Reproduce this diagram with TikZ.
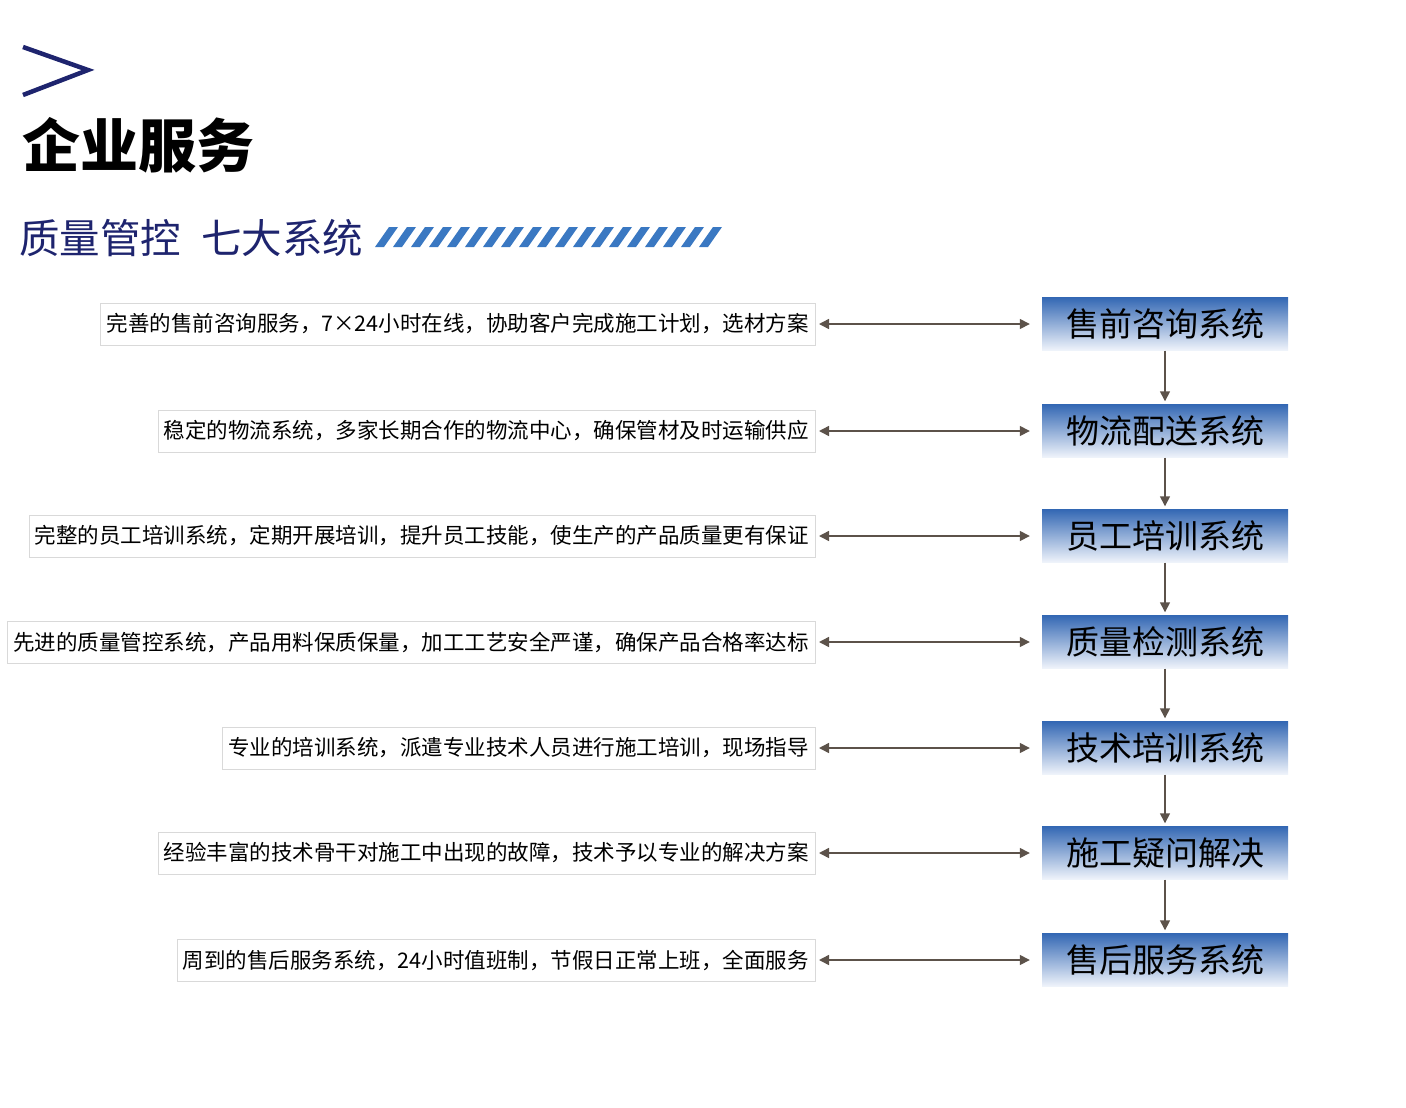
\documentclass[tikz,border=0pt]{standalone}
\usepackage{fontspec}
\setmainfont{Noto Sans CJK SC}
\usetikzlibrary{arrows.meta}
\definecolor{navy}{RGB}{30,36,110}
\definecolor{stripeblue}{RGB}{58,120,194}
\definecolor{boxtop}{RGB}{52,104,180}
\definecolor{boxbot}{RGB}{240,244,251}
\definecolor{linkgray}{RGB}{92,82,74}
\tikzset{sysbox/.style={minimum width=246pt,minimum height=53pt,inner sep=0pt,
  top color=boxtop,bottom color=boxbot,font=\fontsize{33}{33}\selectfont},
 descbox/.style={draw=black!15,anchor=east,minimum height=42pt,inner xsep=6pt,
  font=\fontsize{21.5}{22}\selectfont},
 link/.style={draw=linkgray,line width=1.5pt,
  {Triangle[width=10pt,length=10pt]}-{Triangle[width=10pt,length=10pt]}},
 flow/.style={draw=linkgray,line width=1.5pt,-{Triangle[width=10pt,length=10pt]}},
 }

\begin{document}
\begin{tikzpicture}[x=1pt,y=-1pt]
    \useasboundingbox (0,0) rectangle (1406,1108);
    % heading
    \draw[navy,line width=4.5pt] (23,47) -- (88,70) -- (23,95);
    \node[anchor=west,inner sep=0pt,font=\fontsize{58}{58}\selectfont\bfseries] (title) at (22,145) {企业服务};
    \node[anchor=west,inner sep=0pt,text=navy,font=\fontsize{40.5}{41}\selectfont] (subtitle) at (19,238) {质量管控\hspace{20pt}七大系统};
    \foreach \k in {0,...,18}
        \fill[stripeblue] (375+18*\k,247) -- ++(9,0) -- ++(14,-20) -- ++(-9,0) -- cycle;
    % systems and descriptions
    \foreach \i/\y/\sys/\desc in {
        1/324/售前咨询系统/完善的售前咨询服务，7×24小时在线，协助客户完成施工计划，选材方案,
        2/431/物流配送系统/稳定的物流系统，多家长期合作的物流中心，确保管材及时运输供应,
        3/536/员工培训系统/完整的员工培训系统，定期开展培训，提升员工技能，使生产的产品质量更有保证,
        4/642/质量检测系统/先进的质量管控系统，产品用料保质保量，加工工艺安全严谨，确保产品合格率达标,
        5/748/技术培训系统/专业的培训系统，派遣专业技术人员进行施工培训，现场指导,
        6/853/施工疑问解决/经验丰富的技术骨干对施工中出现的故障，技术予以专业的解决方案,
        7/960/售后服务系统/周到的售后服务系统，24小时值班制，节假日正常上班，全面服务}
    {
        \node[sysbox] (s\i) at (1165,\y) {\sys};
        \node[descbox] (d\i) at (815,\y) {\desc};
        \draw[link,shorten <=4pt,shorten >=12pt] (d\i) -- (s\i);
    }
    \foreach \i [evaluate=\i as \j using int(\i+1)] in {1,...,6}
        \draw[flow,shorten >=3pt] (s\i) -- (s\j);
\end{tikzpicture}
\end{document}
